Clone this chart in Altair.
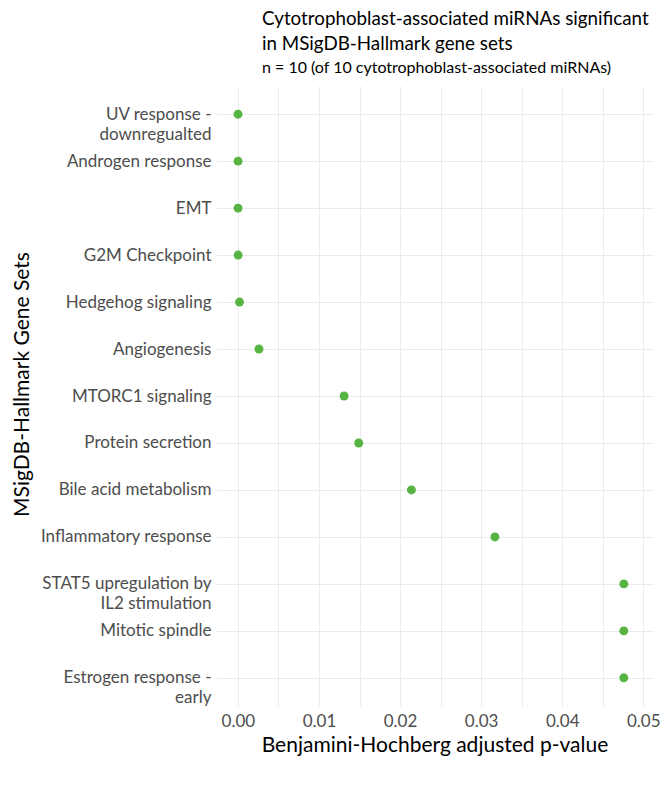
import altair as alt
import pandas as pd

gene_sets = [
    "UV response -\ndownregualted",
    "Androgen response",
    "EMT",
    "G2M Checkpoint",
    "Hedgehog signaling",
    "Angiogenesis",
    "MTORC1 signaling",
    "Protein secretion",
    "Bile acid metabolism",
    "Inflammatory response",
    "STAT5 upregulation by\nIL2 stimulation",
    "Mitotic spindle",
    "Estrogen response -\nearly",
]
padj = [0.00001, 0.00002, 0.00002, 0.00003, 0.0002, 0.0026, 0.0131, 0.0149,
        0.0214, 0.0317, 0.0476, 0.0476, 0.0476]

df = pd.DataFrame({"set": gene_sets, "padj": padj})

FONT = "Lato"

chart = alt.Chart(df).mark_circle(size=80, color="#57B442", opacity=1).encode(
    x=alt.X(
        "padj:Q",
        scale=alt.Scale(domain=[-0.0027, 0.0512], nice=False, zero=False),
        axis=alt.Axis(
            title="Benjamini-Hochberg adjusted p-value",
            values=[i * 0.005 for i in range(11)],
            labelExpr="round(datum.value*200) % 2 == 0 ? format(datum.value, '.2f') : ''",
            grid=True, domain=False, ticks=False,
            labelPadding=7,
            titleY=39, titleBaseline="middle",
        ),
    ),
    y=alt.Y(
        "set:N",
        sort=gene_sets,
        scale=alt.Scale(padding=0.6),
        axis=alt.Axis(
            title="MSigDB-Hallmark Gene Sets",
            labelExpr="split(datum.label, '\\n')",
            grid=True, domain=False, ticks=False,
            labelPadding=5,
            titleX=-194, titleY=298, titleBaseline="middle", titleAngle=-90,
            labelLineHeight=20,
        ),
    ),
).properties(
    width=437,
    height=620,
    title=alt.TitleParams(
        text=["Cytotrophoblast-associated miRNAs significant", "in MSigDB-Hallmark gene sets"],
        subtitle="n = 10 (of 10 cytotrophoblast-associated miRNAs)",
        anchor="start",
        frame="group",
        dx=46,
        offset=10,
        font=FONT,
        fontSize=18.8,
        fontWeight="normal",
        lineHeight=25,
        color="#000000",
        subtitleFont=FONT,
        subtitleFontSize=16,
        subtitleColor="#000000",
        subtitlePadding=6,
    ),
    autosize=alt.AutoSizeParams(type="none"),
    padding={"left": 208, "top": 78, "right": 8, "bottom": 71},
).configure_view(
    stroke=None
).configure_axis(
    labelFont=FONT,
    labelFontSize=17,
    labelColor="#4D4D4D",
    titleFont=FONT,
    titleFontSize=21,
    titleFontWeight="normal",
    titleColor="#000000",
    gridColor="#EBEBEB",
    gridWidth=1,
)

chart.save("out.html", embed_options={"renderer": "svg", "actions": False})
